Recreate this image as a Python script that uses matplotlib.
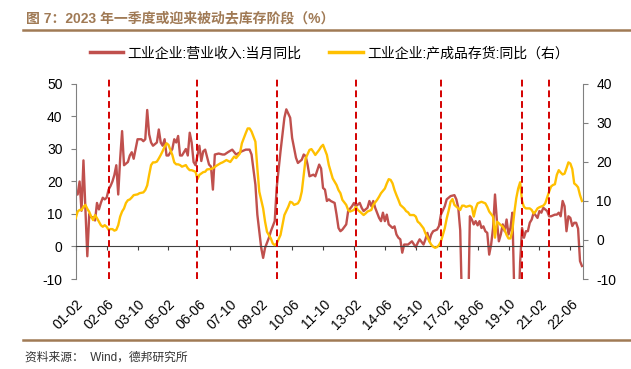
import matplotlib.pyplot as plt
from matplotlib.lines import Line2D

plt.rcParams['font.family'] = ['Liberation Sans', 'Noto Sans CJK SC']
plt.rcParams['axes.unicode_minus'] = False

# 工业企业:营业收入:当月同比 (%)
rev_dates = ['2001-02', '2001-03', '2001-04', '2001-05', '2001-06', '2001-07', '2001-08', '2001-09', '2001-10', '2001-11', '2001-12',
             '2002-01', '2002-02', '2002-03', '2002-04', '2002-05', '2002-06', '2002-07', '2002-08', '2002-09', '2002-10', '2002-11', '2002-12',
             '2003-01', '2003-02', '2003-03', '2003-05', '2003-06', '2003-07', '2003-08', '2003-09', '2003-10', '2003-12',
             '2004-01', '2004-02', '2004-03', '2004-04', '2004-05', '2004-06', '2004-08', '2004-09', '2004-10', '2004-11', '2004-12',
             '2005-01', '2005-02', '2005-04', '2005-05', '2005-06', '2005-07', '2005-08', '2005-09', '2005-11', '2005-12',
             '2006-01', '2006-02', '2006-03', '2006-04', '2006-06', '2006-07', '2006-08', '2006-09', '2006-11', '2006-12',
             '2007-01', '2007-02', '2007-04', '2007-06', '2007-07', '2007-09', '2007-11',
             '2008-01', '2008-04', '2008-06', '2008-08', '2008-09', '2008-11', '2008-12',
             '2009-02', '2009-03', '2009-04', '2009-06', '2009-07', '2009-09', '2009-10', '2009-12',
             '2010-02', '2010-03', '2010-05', '2010-06', '2010-08', '2010-09', '2010-11', '2010-12',
             '2011-01', '2011-02', '2011-03', '2011-05', '2011-06', '2011-08', '2011-09', '2011-10', '2011-11', '2011-12',
             '2012-01', '2012-02', '2012-04', '2012-05', '2012-06', '2012-07', '2012-08', '2012-10', '2012-11',
             '2013-01', '2013-02', '2013-03', '2013-05', '2013-06', '2013-07', '2013-09', '2013-10', '2013-11', '2013-12',
             '2014-01', '2014-03', '2014-04', '2014-05', '2014-06', '2014-07', '2014-08', '2014-10', '2014-11', '2014-12',
             '2015-01', '2015-02', '2015-03', '2015-04', '2015-06', '2015-07', '2015-08', '2015-10', '2015-11', '2015-12',
             '2016-02', '2016-03', '2016-04', '2016-05', '2016-06', '2016-07', '2016-09', '2016-10', '2016-11',
             '2017-01', '2017-02', '2017-03', '2017-04', '2017-06', '2017-07', '2017-08', '2017-09', '2017-10', '2017-11', '2017-12',
             '2018-01', '2018-02', '2018-03', '2018-04', '2018-05', '2018-06', '2018-07', '2018-08', '2018-09', '2018-10', '2018-11', '2018-12',
             '2019-01', '2019-02', '2019-03', '2019-04', '2019-05', '2019-06', '2019-07', '2019-08', '2019-09', '2019-10', '2019-11', '2019-12',
             '2020-01', '2020-02', '2020-03', '2020-04', '2020-05', '2020-06', '2020-07', '2020-08', '2020-09', '2020-10', '2020-11',
             '2021-01', '2021-02', '2021-03', '2021-04', '2021-05', '2021-06', '2021-07', '2021-08', '2021-10', '2021-11', '2021-12',
             '2022-01', '2022-02', '2022-03', '2022-04', '2022-05', '2022-06', '2022-07', '2022-08', '2022-09', '2022-10', '2022-11', '2022-12']
rev_yoy = [16, 16, 20, 11, 26.5, 12, -3, 10, 9, 9, 8,
           13.4, 11.4, 13.4, 15, 14.5, 15, 17.5, 18.6, 20, 22, 25, 16,
           27, 35.5, 25, 26, 28, 29, 27, 30, 33, 33,
           32.4, 33, 42, 34.5, 32, 31, 32, 36, 32, 31, 33,
           28, 28, 30, 33, 32, 34, 28, 28, 30, 28,
           35, 32, 26, 25, 31, 26.3, 29.3, 29.8, 25.2, 24.6,
           17.5, 28.3, 28.6, 28.3, 28.3, 29.1, 29.8,
           28.3, 29.3, 29.8, 29.8, 28.3, 19, 9.8,
           -0.4, -3.5, -0.4, 2.7, 4.7, 7.8, 18, 29.3,
           39.6, 42.2, 39.6, 33.4, 27.3, 25.7, 26.7, 28.3,
           27.8, 25.2, 21.6, 22.1, 21.6, 25.2, 24, 18, 17.5, 14,
           14.5, 14, 13.4, 9.8, 5.7, 4.7, 5.2, 6.8, 10.9,
           12.4, 13.4, 12.4, 13.4, 11.9, 10.9, 11.9, 14, 12.4, 14,
           11.9, 8.8, 7.8, 10.4, 7.8, 9.8, 6.8, 5.7, 6.2, 3.7,
           2.7, 2.2, -1.9, 0.6, 0.6, 1.1, 1.6, -0.2, 1.1, 2.2,
           0.6, 2.2, 4.2, 1.6, 3.7, 4.7, 5.2, 6.3, 9.8,
           12.4, 14.5, 15, 15.5, 15.8, 14.5, 11.9, 5, -20, -25, -25,
           -25, 9.3, 8.3, 6.8, 7.8, 6.5, 7.8, 5.7, 6.2, 4.7, 4.2, -2.5,
           0.6, 5.7, 16, 7.8, 1.6, 3.7, 6.8, 4.7, 8.3, 3.7, 5.7, 10.4,
           -15, -25, -25, -5, 5.7, 2.7, 4.7, 4.7, 7.3, 8.3, 10.4,
           8.8, 10.9, 10.4, 11.9, 11.4, 10.9, 9.3, 9.3, 9.8, 9.8, 10.4,
           9.3, 14, 12.4, 4.7, 9.3, 8.8, 6.3, 7.3, 7.3, 5.5, -4.5, -6]

# 工业企业:产成品存货:同比 (%), right axis
inv_dates = ['2001-02', '2001-03', '2001-04', '2001-05', '2001-06', '2001-07', '2001-08', '2001-09', '2001-10', '2001-11', '2001-12',
             '2002-01', '2002-02', '2002-03', '2002-04', '2002-05', '2002-06', '2002-07', '2002-08', '2002-09', '2002-10', '2002-11', '2002-12',
             '2003-01', '2003-02', '2003-03', '2003-04', '2003-05', '2003-06', '2003-07', '2003-08', '2003-10', '2003-11',
             '2004-01', '2004-02', '2004-03', '2004-04', '2004-05', '2004-06', '2004-07', '2004-08', '2004-09', '2004-10', '2004-11', '2004-12',
             '2005-01', '2005-02', '2005-03', '2005-04', '2005-05', '2005-06', '2005-07', '2005-08', '2005-09', '2005-11', '2005-12',
             '2006-01', '2006-02', '2006-04', '2006-05', '2006-06', '2006-08', '2006-09', '2006-10', '2006-12',
             '2007-01', '2007-03', '2007-05', '2007-06', '2007-08', '2007-10', '2007-12',
             '2008-01', '2008-03', '2008-04', '2008-06', '2008-07', '2008-08', '2008-09', '2008-11', '2008-12',
             '2009-01', '2009-03', '2009-04', '2009-05', '2009-07', '2009-08', '2009-09', '2009-10', '2009-12',
             '2010-01', '2010-02', '2010-04', '2010-05', '2010-06', '2010-07', '2010-09', '2010-10', '2010-11', '2010-12',
             '2011-01', '2011-03', '2011-04', '2011-05', '2011-06', '2011-08', '2011-09', '2011-10', '2011-12',
             '2012-01', '2012-02', '2012-03', '2012-05', '2012-06', '2012-07', '2012-08', '2012-10', '2012-11', '2012-12',
             '2013-02', '2013-03', '2013-04', '2013-05', '2013-07', '2013-08', '2013-09', '2013-11', '2013-12',
             '2014-02', '2014-03', '2014-04', '2014-06', '2014-07', '2014-08', '2014-09', '2014-10', '2014-11', '2014-12',
             '2015-01', '2015-02', '2015-04', '2015-05', '2015-06', '2015-07', '2015-09', '2015-10', '2015-11', '2015-12',
             '2016-02', '2016-03', '2016-04', '2016-05', '2016-06', '2016-07', '2016-08', '2016-09', '2016-10', '2016-11', '2016-12',
             '2017-01', '2017-02', '2017-03', '2017-04', '2017-05', '2017-06', '2017-08', '2017-09', '2017-10', '2017-11', '2017-12',
             '2018-02', '2018-03', '2018-04', '2018-05', '2018-06', '2018-08', '2018-09', '2018-10', '2018-11', '2018-12',
             '2019-02', '2019-03', '2019-04', '2019-05', '2019-06', '2019-07', '2019-08', '2019-09', '2019-10', '2019-11', '2019-12',
             '2020-01', '2020-02', '2020-03', '2020-04', '2020-05', '2020-06', '2020-07', '2020-09', '2020-10', '2020-11', '2020-12',
             '2021-01', '2021-02', '2021-03', '2021-04', '2021-05', '2021-06', '2021-07', '2021-08', '2021-09', '2021-10', '2021-11', '2021-12',
             '2022-01', '2022-02', '2022-03', '2022-04', '2022-05', '2022-06', '2022-07', '2022-08', '2022-09', '2022-10', '2022-11', '2022-12']
inv_yoy = [5.6, 7.3, 7.7, 7.7, 8.5, 9, 8, 7.2, 6, 5.1, 6.4,
           5.6, 4.7, 3.8, 3.4, 3.8, 3.4, 2.6, 2.8, 2.8, 2.4, 2.6, 3.8,
           6, 7.3, 8.1, 9.5, 10.2, 10.4, 10.9, 11.5, 11.7, 12,
           12.2, 12.8, 14, 16.7, 19.2, 19.9, 19.9, 20.1, 20.9, 21.8, 22.8, 23.9,
           24.8, 24.4, 23.1, 21.8, 19.9, 19.4, 19.4, 19.2, 18.8, 19.2, 18.4,
           17.9, 17.9, 17.5, 15.6, 16.7, 17.4, 17.5, 18.1, 18.2,
           18.4, 19.1, 19.7, 19.9, 20.5, 20, 21.4,
           21, 22.2, 24.8, 27.4, 28.6, 28.6, 27.8, 25.2, 18.4,
           12.4, 8.1, 4.7, 2.1, 0.4, -0.9, -1.3, -0.9, 1.3,
           3.8, 6.4, 8.5, 9.8, 9.6, 9, 9.4, 10.3, 12.4, 16.7,
           20.9, 23.1, 23.3, 22.6, 21.8, 23.1, 23.9, 24.4, 21.8,
           19.2, 17.5, 15.8, 14.1, 12.8, 12, 10.3, 9, 7.7, 7.3,
           7.7, 8.5, 7.7, 7.3, 6.4, 6.8, 7.3, 7.7, 9,
           10.3, 11.1, 12, 13.2, 14.5, 15.6, 15.4, 14.5, 12.8, 11.5,
           10.3, 9, 8.1, 7.4, 7.1, 6.4, 6.4, 6, 4.7, 4.3,
           3, 1.7, 0.8, -0.3, -1.2, -1.7, -2, -1.8, -1.3, -0.4, 1.3,
           3, 5.5, 7.5, 9.8, 10.5, 9, 8.1, 7.7, 8.8, 8.8, 8.5,
           8.8, 8.5, 6, 8.1, 9.4, 9.8, 9.6, 9.4, 8.5, 7.3,
           6, 0.6, 4.7, 4.3, 3.8, 3.4, 2.6, 1.3, 0.4, 0.4, 2.5,
           7, 10.7, 13.2, 14.8, 10, 8.5, 8.1, 8.1, 7.7, 6.8, 7.3,
           8.1, 8.4, 8.6, 8.8, 9.4, 10.9, 12.4, 13.7, 14.1, 14.3, 16.7, 17.9,
           17.3, 16.8, 17, 18.4, 19.9, 19.6, 18.2, 14.5, 14.1, 13.5, 11.5, 10]

# start of each passive destocking stage (red dashed lines)
stage_dates = ['2002-07', '2006-05', '2009-10', '2013-03', '2016-11', '2020-05', '2021-07']

tick_labels = ['01-02', '02-06', '03-10', '05-02', '06-06', '07-10', '09-02', '10-06', '11-10',
               '13-02', '14-06', '15-10', '17-02', '18-06', '19-10', '21-02', '22-06']


def month_no(s):
    # months since 2001-02, so every month gets the same width like the category axis
    y, m = s.split('-')
    return (int(y) - 2001) * 12 + int(m) - 2


red = '#C0504D'
gold = '#FFC000'
brown = '#A07A55'

fig = plt.figure(figsize=(6.31, 3.69), dpi=100)
ax = fig.add_axes([0.12, 0.2439, 0.8044, 0.5285])

# spines first: moving a spine resets the ticks
ax.spines['top'].set_visible(False)
ax.spines['right'].set_visible(False)
ax.spines['left'].set_color('#808080')
ax.spines['bottom'].set_position(('data', 0))
ax.spines['bottom'].set_color('#404040')

ax.plot([month_no(d) for d in rev_dates], rev_yoy, color=red, lw=1.7)
ax.set_xlim(0, 262.7)
ax.set_ylim(-10, 50)
ax.set_yticks(range(-10, 51, 10))
ax.set_xticks([month_no('20' + t) for t in tick_labels])
ax.set_xticklabels(tick_labels, rotation=45, ha='right', va='top', rotation_mode='anchor')

ax2 = ax.twinx()
for s in ['top', 'left', 'bottom']:
    ax2.spines[s].set_visible(False)
ax2.spines['right'].set_color('#808080')
ax2.plot([month_no(d) for d in inv_dates], inv_yoy, color=gold, lw=1.7)
ax2.set_ylim(-10, 40)
ax2.set_yticks(range(-10, 41, 10))

for d in stage_dates:
    ax2.axvline(month_no(d), ymin=0, ymax=1.036, color='#D40000', lw=1.4,
                ls=(0, (3.5, 2)), clip_on=False)

ax.tick_params(axis='y', length=3.5, width=0.8, color='#808080', pad=6, labelsize=10)
ax2.tick_params(axis='y', length=3.5, width=0.8, color='#808080', pad=6, labelsize=10)
ax.tick_params(axis='x', length=3.2, width=0.8, color='#404040', pad=33, labelsize=10)

handles = [Line2D([], [], color=red, lw=2.5), Line2D([], [], color=gold, lw=2.5)]
fig.legend(handles, ['工业企业:营业收入:当月同比', '工业企业:产成品存货:同比（右）'],
           loc='center', bbox_to_anchor=(0.522, 0.8555), ncol=2, frameon=False,
           fontsize=10, handlelength=2.4, handletextpad=0.3, columnspacing=2.0)

fig.text(0.041, 0.950, '图 7：2023 年一季度或迎来被动去库存阶段（%）', fontsize=10,
         fontweight='bold', color=brown, va='center')
fig.add_artist(Line2D([0.0365, 1], [0.9187, 0.9187], transform=fig.transFigure, color=brown, lw=1.8))
fig.add_artist(Line2D([0.0365, 1], [0.0786, 0.0786], transform=fig.transFigure, color=brown, lw=1.8))
fig.text(0.0396, 0.0298, '资料来源：  Wind，德邦研究所', fontsize=8.5, color='#333333', va='center')

fig.savefig('out.png', dpi=100)
